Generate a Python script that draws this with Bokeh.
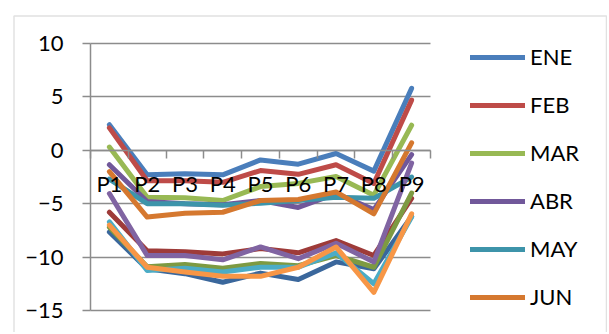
from bokeh.plotting import figure
from bokeh.models import Range1d, FixedTicker, Legend, LegendItem, LinearAxis, Grid, BoxAnnotation
from bokeh.embed import file_html
from bokeh.resources import INLINE

categories = ["P1", "P2", "P3", "P4", "P5", "P6", "P7", "P8", "P9"]
months = ["ENE", "FEB", "MAR", "ABR", "MAY", "JUN", "JUL", "AGO", "SEP", "OCT", "NOV", "DIC"]

ene = [2.4, -2.3, -2.2, -2.3, -0.9, -1.3, -0.3, -1.95, 5.8]
feb = [2.1, -2.85, -2.85, -3.0, -1.9, -2.25, -1.35, -3.1, 4.7]
mar = [0.3, -4.4, -4.45, -4.7, -3.4, -3.1, -2.45, -4.2, 2.35]
abr = [-1.35, -4.8, -5.0, -5.1, -4.7, -5.35, -4.05, -5.55, -0.4]
may = [-2.7, -5.0, -5.0, -5.15, -4.95, -4.7, -4.4, -4.5, -2.5]
jun = [-2.0, -6.25, -5.9, -5.8, -4.7, -4.6, -3.9, -5.95, 0.7]
jul = [-7.65, -11.1, -11.55, -12.35, -11.5, -12.1, -10.45, -11.1, -6.2]
ago = [-5.8, -9.4, -9.5, -9.7, -9.2, -9.6, -8.45, -9.85, -4.5]
sep = [-7.2, -10.9, -10.7, -11.05, -10.6, -10.8, -9.85, -10.95, -4.0]
octu = [-4.05, -9.85, -9.85, -10.25, -9.05, -10.15, -8.7, -10.45, -1.2]
nov = [-6.7, -11.25, -11.05, -11.4, -10.95, -10.95, -9.6, -12.5, -6.25]
dic = [-7.0, -10.95, -11.4, -11.8, -11.8, -10.95, -9.05, -13.3, -5.95]
series = [ene, feb, mar, abr, may, jun, jul, ago, sep, octu, nov, dic]

colors = ["#4A7EBB", "#BE4B48", "#98B954", "#71589A", "#3D94AA", "#D5782F",
          "#3A679C", "#9E3B39", "#7D9A42", "#8064A2", "#4BACC6", "#F79646"]

y_ticks = [-15, -10, -5, 0, 5, 10]
y_min, y_max = -15, 10

FONT = "Lato"
GRAY = "#8C8C8C"

# canvas geometry (screen px within the figure)
W, H = 607, 332
PLOT_L, PLOT_R = 90, 430
PLOT_T, PLOT_B = 43, 310

n = len(categories)
xs = [i + 0.5 for i in range(n)]
xpx = (PLOT_R - PLOT_L) / n
x_lo = -PLOT_L / xpx
x_hi = n + (W - PLOT_R) / xpx
ypx = (PLOT_B - PLOT_T) / (y_max - y_min)
y_hi = y_max + PLOT_T / ypx
y_lo = y_min - (H - PLOT_B) / ypx


def sx(px):
    return x_lo + px / xpx


def sy(py):
    return y_hi - py / ypx


p = figure(width=W, height=H, output_backend="svg", toolbar_location=None,
           x_range=Range1d(x_lo, x_hi), y_range=Range1d(y_lo, y_hi),
           min_border=0, x_axis_type=None, y_axis_type=None)
p.outline_line_color = None
p.background_fill_color = "white"
p.border_fill_color = "white"

# chart-area border
p.add_layout(BoxAnnotation(left=sx(13.5), right=sx(606), top=sy(15.5), bottom=sy(H + 20),
                           fill_color=None, line_color="#9A9A9A", line_width=1.5))

grid = Grid(dimension=1, ticker=FixedTicker(ticks=y_ticks))
grid.grid_line_color = GRAY
grid.grid_line_width = 1.5
grid.cross_bounds = (0, n)
p.add_layout(grid)

yax = LinearAxis(ticker=FixedTicker(ticks=y_ticks), fixed_location=0, bounds=(y_min, y_max))
yax.axis_line_color = GRAY
yax.axis_line_width = 1.5
yax.major_tick_line_color = GRAY
yax.major_tick_line_width = 1.5
yax.major_tick_out = 8
yax.major_tick_in = 0
yax.minor_tick_line_color = None
yax.major_label_standoff = 19
yax.major_label_text_font = FONT
yax.major_label_text_font_size = "22px"
yax.major_label_text_color = "black"
p.add_layout(yax, "left")

xax = LinearAxis(ticker=FixedTicker(ticks=xs, minor_ticks=list(range(n + 1))),
                 fixed_location=0, bounds=(0, n))
xax.axis_line_color = GRAY
xax.axis_line_width = 1.5
xax.major_tick_line_color = None
xax.major_tick_out = 0
xax.major_tick_in = 0
xax.minor_tick_line_color = GRAY
xax.minor_tick_line_width = 1.5
xax.minor_tick_out = 8
xax.minor_tick_in = 0
xax.major_label_overrides = {x: c for x, c in zip(xs, categories)}
xax.major_label_standoff = 12
xax.major_label_text_font = FONT
xax.major_label_text_font_size = "22px"
xax.major_label_text_color = "black"
p.add_layout(xax, "below")

items = []
for name, vals, col in zip(months, series, colors):
    r = p.line(xs, vals, line_color=col, line_width=5, line_cap="round", line_join="round")
    items.append(LegendItem(label=name, renderers=[r]))

legend = Legend(items=items[:6], location=(470, 22))
legend.glyph_width = 55
legend.glyph_height = 26
legend.label_height = 26
legend.spacing = 21
legend.label_standoff = 5
legend.padding = 0
legend.margin = 0
legend.border_line_color = None
legend.background_fill_color = None
legend.label_text_font = FONT
legend.label_text_font_size = "22px"
legend.label_text_color = "black"
p.add_layout(legend, "center")

open("out.html", "w").write(file_html(p, INLINE))
